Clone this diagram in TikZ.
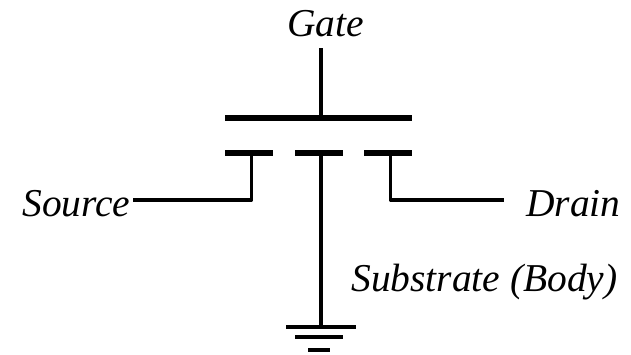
\documentclass[tikz,border=0pt]{standalone}
\usepackage{fontspec}
\setmainfont{Liberation Serif}
\usetikzlibrary{calc}
\tikzset{
    terminal/.style={font=\fontsize{29.6}{32}\selectfont\itshape, inner sep=0pt},
    plate/.style={line width=4.5pt},
    wire/.style={line width=2.8pt},
    earth/.style={line width=3pt}
}

\begin{document}
\begin{tikzpicture}[x=0.75pt, y=-0.75pt]
    \useasboundingbox (0, 0) rectangle (631, 354);

    % Labels
    \node [terminal, anchor=base west] (gate) at (287, 36.5) {Gate};
    \node [terminal, anchor=base west] (source) at (22, 216) {Source};
    \node [terminal, anchor=base west] (drain) at (526, 216) {Drain};
    \node [terminal, anchor=base west] (body) at (351, 291) {Substrate (Body)};

    % Gate plate
    \coordinate (gateTop) at (321, 48);
    \coordinate (gateMid) at (321, 117.5);
    \draw [plate] (225, 117.5) -- (412, 117.5);
    \draw [wire] (gateTop) -- (gateMid);

    % Contacts
    \foreach \x/\name in {249/sourcePlate, 319/bodyPlate, 388/drainPlate} {
        \coordinate (\name) at (\x, 152.5);
        \draw [plate] ($(\name) + (-24, 0)$) -- ($(\name) + (24, 0)$);
    }

    % Source and drain leads
    \coordinate (sourceEnd) at (133, 200);
    \coordinate (drainEnd) at (504, 200);
    \draw [wire, line join=round] (251.5, 152.5) |- (sourceEnd);
    \draw [wire, line join=round] (390.5, 152.5) |- (drainEnd);

    % Substrate and ground
    \coordinate (groundTop) at (321, 326);
    \draw [wire] (321, 152.5) -- (groundTop);
    \draw [earth] (286, 326.5) -- (356, 326.5);
    \draw [earth] (295, 336.5) -- (343, 336.5);
    \draw [earth] (308, 350) -- (330, 350);
\end{tikzpicture}
\end{document}
